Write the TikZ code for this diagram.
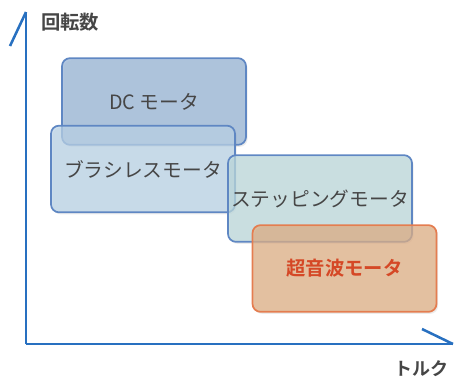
\documentclass[tikz,border=0pt]{standalone}
\usepackage{fontspec}
\newfontfamily\jp{Noto Sans CJK JP}
\newfontfamily\jpb{Noto Sans CJK JP Bold}
\usetikzlibrary{shadows}
\definecolor{axisblue}{RGB}{40,112,192}
\definecolor{dcfill}{RGB}{150,179,213}
\definecolor{blfill}{RGB}{186,211,231}
\definecolor{stfill}{RGB}{189,218,221}
\definecolor{usfill}{RGB}{224,175,132}
\definecolor{blueedge}{RGB}{95,135,195}
\definecolor{orangeedge}{RGB}{228,125,80}
\definecolor{txtgray}{RGB}{70,70,70}
\definecolor{usred}{RGB}{213,72,38}
\tikzset{
  motorbox/.style={draw, line width=1.3pt, rounded corners=6pt, minimum width=138pt,
    minimum height=65pt, inner sep=0pt, fill opacity=0.72, text opacity=1,
    drop shadow={shadow xshift=1.2pt, shadow yshift=-1.5pt, opacity=0.15},
    font=\jp\fontsize{14.8}{16}\selectfont, text=txtgray},
  axisline/.style={draw=axisblue, line width=1.9pt},
  axislabel/.style={font=\jpb\fontsize{14.5}{16}\selectfont, text=txtgray, inner sep=0pt}
}
\begin{document}
\begin{tikzpicture}[x=0.75pt,y=-0.75pt]
\useasboundingbox (0,0) rectangle (454,380);
\coordinate (O) at (26,344);
\coordinate (Ytop) at (26,12);
\coordinate (Yhead) at (10,46);
\coordinate (Xend) at (453,344);
\coordinate (Xhead) at (422,329);
\draw[axisline] (O) -- (Ytop);
\draw[axisline] (Yhead) -- (Ytop);
\draw[axisline] (O) -- (Xend);
\draw[axisline] (Xhead) -- (Xend);
\node[axislabel] (ylab) at (70,22) {回転数};
\node[axislabel,font=\jpb\fontsize{13.5}{15}\selectfont] (xlab) at (421,369) {トルク};
\node[motorbox, draw=blueedge, fill=dcfill] (dc) at (154,101.5) {DC モータ};
\node[motorbox, draw=blueedge, fill=blfill] (bl) at (143,169) {ブラシレスモータ};
\node[motorbox, draw=blueedge, fill=stfill] (st) at (320,198.5) {ステッピングモータ};
\node[motorbox, draw=orangeedge, fill=usfill, text=usred, font=\jpb\fontsize{14.5}{16}\selectfont] (us) at (344.5,268.5) {超音波モータ};
\end{tikzpicture}
\end{document}
